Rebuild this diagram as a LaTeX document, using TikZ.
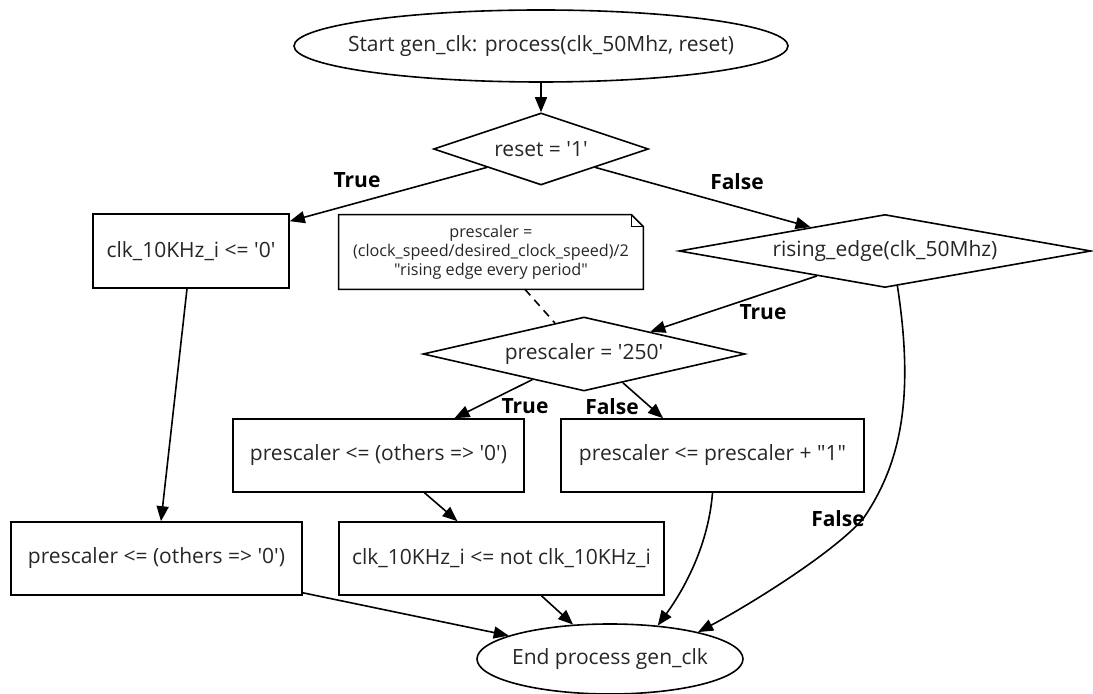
\documentclass[tikz,border=0pt]{standalone}
\usepackage{fontspec}
\newfontfamily\gvfont{Open Sans}
\usetikzlibrary{shapes.geometric,arrows.meta,calc}
\begin{document}
\begin{tikzpicture}[x=0.5pt,y=-0.5pt,
  every node/.style={font=\gvfont\fontsize{10.5}{12}\selectfont, text=black!85, inner sep=0pt},
  box/.style={draw, rectangle, line width=0.8pt},
  dia/.style={draw, diamond, line width=0.8pt},
  oval/.style={draw, ellipse, line width=0.8pt},
  flow/.style={line width=0.8pt, -{Triangle[length=7.5pt,width=6pt]}},
  lbl/.style={font=\gvfont\bfseries\fontsize{10.5}{12}\selectfont, text=black},
  notetext/.style={font=\gvfont\fontsize{8.1}{9.6}\selectfont, align=center}
]
\useasboundingbox (0,0) rectangle (1093,694);
% nodes
\node[oval, inner xsep=-9.5pt, minimum width=247pt, minimum height=36pt] (start) at (541,46) {Start gen\_clk: process(clk\_50Mhz, reset)};
\node[dia, shape aspect=2.99, minimum width=107.5pt, minimum height=36pt] (reset) at (541,149) {reset = '1'};
\node[box, minimum width=98pt, minimum height=37pt] (clk0) at (191,251) {clk\_10KHz\_i <= '0'};
\node[notetext, minimum width=152pt, minimum height=37pt] (note) at (491,252) {prescaler =\\(clock\_speed/desired\_clock\_speed)/2\\"rising edge every period"};
\node[dia, shape aspect=5.64, minimum width=206pt, minimum height=36.5pt] (rising) at (885,251) {rising\_edge(clk\_50Mhz)};
\node[dia, shape aspect=4.35, minimum width=161pt, minimum height=37pt] (p250) at (584,354) {prescaler = '250'};
\node[box, minimum width=145.5pt, minimum height=36.5pt] (box1) at (378.5,455.5) {prescaler <= (others => '0')};
\node[box, minimum width=151.5pt, minimum height=36.5pt] (plus1) at (712.5,455.5) {prescaler <= prescaler + "1"};
\node[box, minimum width=145.5pt, minimum height=36.5pt] (box2) at (156.5,558.5) {prescaler <= (others => '0')};
\node[box, minimum width=162.5pt, minimum height=36.5pt] (clknot) at (501.5,558.5) {clk\_10KHz\_i <= not clk\_10KHz\_i};
\node[oval, inner xsep=-3pt, minimum width=133pt, minimum height=35pt] (stop) at (610,659) {End process gen\_clk};
% note outline
\draw[line width=0.8pt] (note.north west) -- ([xshift=-6pt]note.north east) -- ([yshift=-6pt]note.north east) -- (note.south east) -- (note.south west) -- cycle;
\draw[line width=0.8pt] ([xshift=-6pt]note.north east) |- ([yshift=-6pt]note.north east);
% connectors
\draw[flow] (start) -- (reset);
\draw[flow] (reset.south west) -- ([yshift=-4pt]clk0.north east);
\draw[flow] (reset.south east) -- ($(rising.west)!0.64!(rising.north)$);
\draw[flow] ($(rising.west)!0.67!(rising.south)$) -- ($(p250.north)!0.41!(p250.east)$);
\draw[flow] ($(rising.south)!0.06!(rising.east)$) .. controls (915,400) and (900,465) .. (863,519) .. controls (830,556) and (742,609) .. (stop.17);
\draw[flow] ($(p250.west)!0.68!(p250.south)$) -- ([xshift=38pt]box1.north);
\draw[flow] ($(p250.south)!0.24!(p250.east)$) -- ([xshift=-24.75pt]plus1.north);
\draw[flow] ([xshift=-2pt]clk0.south) -- ([xshift=2.25pt]box2.north);
\draw[flow] ([xshift=23pt]box1.south) -- ([xshift=-22pt]clknot.north);
\draw[flow] ([yshift=1.5pt]box2.south east) -- (stop.167);
\draw[flow] ([xshift=20pt]clknot.south) -- (stop.137);
\draw[flow] (plus1.south) .. controls (708,550) and (680,595) .. (stop.35);
\draw[line width=0.8pt, dash pattern=on 4pt off 3pt] ([xshift=17pt]note.south) -- ($(p250.west)!0.82!(p250.north)$);
% labels
\node[lbl] (lt1) at (357,180) {True};
\node[lbl] (lf1) at (737,182) {False};
\node[lbl] (lt2) at (763,312) {True};
\node[lbl] (lt3) at (525,406) {True};
\node[lbl] (lf3) at (612,407) {False};
\node[lbl] (lf2) at (838,519) {False};
\end{tikzpicture}
\end{document}
